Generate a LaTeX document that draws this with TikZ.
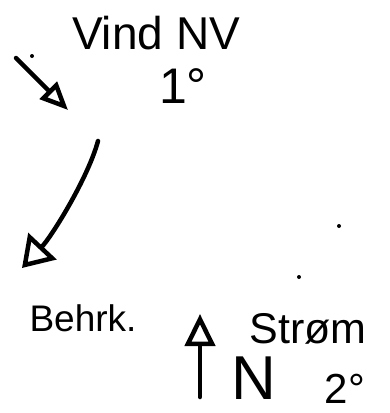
\documentclass[tikz,border=0pt]{standalone}
\usepackage{fontspec}
\setmainfont{Liberation Sans}
\usetikzlibrary{arrows.meta}
\begin{document}
\begin{tikzpicture}[x=1pt,y=-1pt,
  ink/.style={line width=4.5pt,line cap=round,line join=round,black},
  lbl/.style={inner sep=0pt,anchor=center,text=black},
  dotmark/.style={fill=black,circle,inner sep=0pt,minimum size=4pt}]
\useasboundingbox[fill=white] (0,0) rectangle (389,413);
% texts
\node[lbl,font=\fontsize{46}{50}\selectfont] (vind) at (156,33) {Vind NV};
\node[lbl,font=\fontsize{50}{54}\selectfont] (deg1) at (183,86) {1°};
\node[lbl,font=\fontsize{37}{40}\selectfont] (behrk) at (83,318) {Behrk.};
\node[lbl,font=\fontsize{43}{47}\selectfont] (strom) at (308,329) {Strøm};
\node[lbl,font=\fontsize{62}{66}\selectfont] (north) at (254,378) {N};
\node[lbl,font=\fontsize{42}{46}\selectfont] (deg2) at (345,389) {2°};
% wind arrow
\coordinate (w1) at (16,58);
\coordinate (w2) at (68,110);
\draw[ink,-{Triangle[open,length=28pt,width=24pt,line width=4.5pt]}] (w1) -- (w2);
\node[dotmark] (d0) at (32,56) {};
% drift arrow
\coordinate (b1) at (98,141);
\coordinate (b2) at (22,268);
\draw[ink,-{Triangle[open,length=30pt,width=38pt,line width=4.5pt]}] (b1) .. controls (88,178) and (52,236) .. (b2);
% current arrow
\coordinate (s1) at (200,397);
\coordinate (s2) at (200,314);
\draw[ink,-{Triangle[open,length=32pt,width=30pt,line width=4.5pt]}] (s1) -- (s2);
% stray dots
\node[dotmark] (d1) at (339,226) {};
\node[dotmark] (d2) at (299,277) {};
\end{tikzpicture}
\end{document}
